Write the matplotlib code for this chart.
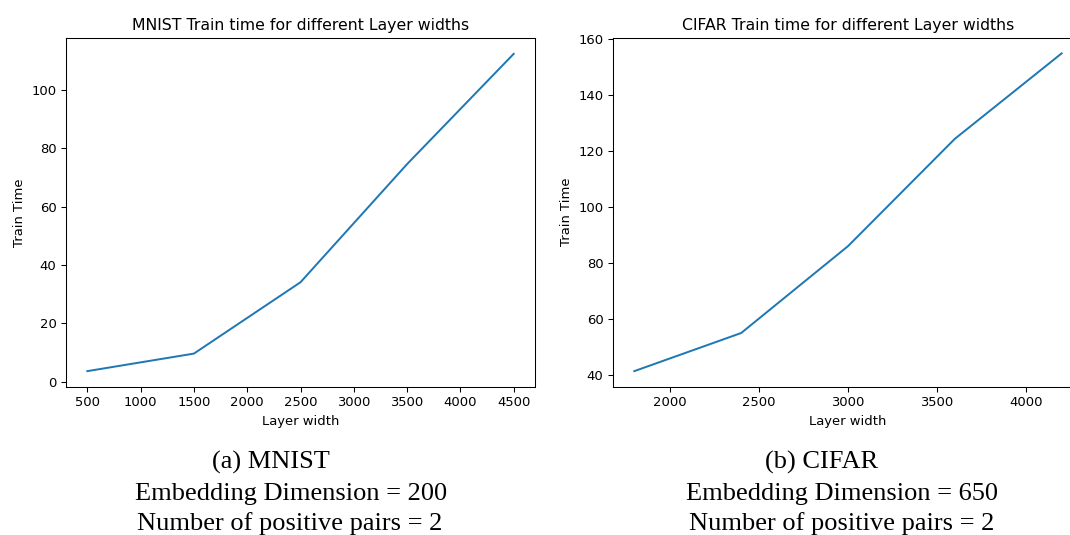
import matplotlib
matplotlib.use("Agg")
import matplotlib.pyplot as plt

# MNIST run: layer width vs train time
mnist_widths = [500, 1500, 2500, 3500, 4500]
mnist_times = [3.7, 9.7, 34.1, 74.5, 112.2]

# CIFAR run: layer width vs train time
cifar_widths = [1800, 2400, 3000, 3600, 4200]
cifar_times = [41.5, 55.1, 86.1, 124.4, 154.9]

titles = ["MNIST Train time for different Layer widths",
          "CIFAR Train time for different Layer widths"]
captions = [["(a) MNIST", "Embedding Dimension = 200", "Number of positive pairs = 2"],
            ["(b) CIFAR", "Embedding Dimension = 650", "Number of positive pairs = 2"]]

W, H = 1070, 535
s = 0.945  # the panels were shrunk a little in the source

plt.rcParams["font.family"] = "DejaVu Sans"
plt.rcParams["axes.linewidth"] = 0.8 * s
plt.rcParams["xtick.major.width"] = 0.8 * s
plt.rcParams["ytick.major.width"] = 0.8 * s
plt.rcParams["xtick.major.size"] = 3.5 * s
plt.rcParams["ytick.major.size"] = 3.5 * s
plt.rcParams["xtick.labelsize"] = 10 * s
plt.rcParams["ytick.labelsize"] = 10 * s

fig = plt.figure(figsize=(W / 100, H / 100), dpi=100)


def box(x0, x1, y0, y1):
    # pixel box -> figure fraction
    return [x0 / W, 1 - y1 / H, (x1 - x0) / W, (y1 - y0) / H]


ax1 = fig.add_axes(box(66, 535, 38, 387))
ax2 = fig.add_axes(box(613, 1083, 37.5, 387))

ax1.plot(mnist_widths, mnist_times, color="#1f77b4", lw=1.5 * s)
ax1.set_xticks(range(500, 4501, 500))
ax2.plot(cifar_widths, cifar_times, color="#1f77b4", lw=1.5 * s)
ax2.set_xticks(range(2000, 4001, 500))
# right panel is cut off at the image edge in the source
ax2.spines["right"].set_visible(False)

for ax, t in zip([ax1, ax2], titles):
    ax.set_title(t, fontsize=12 * s, pad=6 * s)
    ax.set_xlabel("Layer width", fontsize=10 * s, labelpad=4 * s)
    ax.set_ylabel("Train Time", fontsize=10 * s, labelpad=4 * s)

# captions under each panel, serif like the paper
centers = [[271, 291, 290], [822, 842, 842]]
baselines = [469, 500, 530]
for lines, cx in zip(captions, centers):
    for txt, x, yb in zip(lines, cx, baselines):
        fig.text(x / W, 1 - yb / H, txt, ha="center", va="baseline",
                 fontsize=19, family="Liberation Serif")

fig.savefig("out.png", dpi=100)
